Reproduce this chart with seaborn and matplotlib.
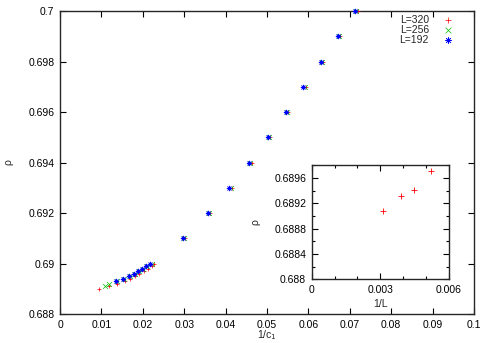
import numpy as np
import matplotlib
matplotlib.use("Agg")
import matplotlib.pyplot as plt
import seaborn as sns
import pandas as pd
from matplotlib.ticker import FuncFormatter, MultipleLocator

# rho levels and the matching 1/c1 for each system size
rho_320 = [0.6890, 0.6891, 0.6892, 0.6893, 0.6894, 0.6895, 0.6896, 0.6897, 0.6898, 0.6899, 0.6900,
           0.691, 0.692, 0.693, 0.694, 0.695, 0.696, 0.697, 0.698, 0.699, 0.700]
inv_c1_320 = [0.0093, 0.0119, 0.0138, 0.0156, 0.0169, 0.0181, 0.0192, 0.0203, 0.0213, 0.0222, 0.0227,
              0.0302, 0.0363, 0.0415, 0.0463, 0.0508, 0.0551, 0.0594, 0.0636, 0.0677, 0.0719]
rho_256 = [0.6891, 0.6892, 0.6893, 0.6894, 0.6895, 0.6896, 0.6897, 0.6898, 0.6899, 0.6900,
           0.691, 0.692, 0.693, 0.694, 0.695, 0.696, 0.697, 0.698, 0.699, 0.700]
inv_c1_256 = [0.0109, 0.0119, 0.0137, 0.0155, 0.0168, 0.0180, 0.0190, 0.0201, 0.0211, 0.0222,
              0.0299, 0.0360, 0.0412, 0.0460, 0.0505, 0.0548, 0.0591, 0.0633, 0.0674, 0.0716]
rho_192 = [0.6893, 0.6894, 0.6895, 0.6896, 0.6897, 0.6898, 0.6899, 0.6900,
           0.691, 0.692, 0.693, 0.694, 0.695, 0.696, 0.697, 0.698, 0.699, 0.700]
inv_c1_192 = [0.0135, 0.0153, 0.0166, 0.0178, 0.0188, 0.0199, 0.0208, 0.0218,
              0.0296, 0.0357, 0.0409, 0.0457, 0.0502, 0.0545, 0.0588, 0.0630, 0.0671, 0.0713]

# inset: rho against 1/L
inv_L = [0.003125, 0.0039, 0.00446, 0.0052]
rho_inset = [0.68908, 0.68932, 0.68941, 0.68971]

series = [('L=320', inv_c1_320, rho_320, '#ff0000', '+'),
          ('L=256', inv_c1_256, rho_256, '#00c000', 'x'),
          ('L=192', inv_c1_192, rho_192, '#0000ff', (8, 2, 0))]

sns.set_style("ticks")
plt.rcParams['font.family'] = ['Liberation Sans', 'DejaVu Sans']
fs = 7.5

fig = plt.figure(figsize=(4.91, 3.43), dpi=100)
ax = fig.add_axes([0.1222, 0.0845, 0.8432, 0.8834])

for label, xs, ys, color, marker in series:
    sns.scatterplot(x=xs, y=ys, ax=ax, color=color, marker=marker, s=12,
                    linewidth=0.5, label=label, clip_on=False, zorder=3)

fmt = FuncFormatter(lambda v, p: f'{round(v, 6):g}')
ax.set_xlim(0, 0.1)
ax.set_ylim(0.688, 0.7)
ax.xaxis.set_major_locator(MultipleLocator(0.01))
ax.yaxis.set_major_locator(MultipleLocator(0.002))
ax.xaxis.set_major_formatter(fmt)
ax.yaxis.set_major_formatter(fmt)
ax.tick_params(direction='in', top=True, right=True, length=4, width=0.8,
               labelsize=fs, colors='black', pad=4)
for s in ax.spines.values():
    s.set_linewidth(1.0)
    s.set_visible(True)
ax.set_xlabel('1/c$_1$', fontsize=fs, labelpad=-1)
ax.set_ylabel('ρ', fontsize=fs, labelpad=11)

leg = ax.legend(loc='upper right', bbox_to_anchor=(0.959, 1.0), frameon=False,
                markerfirst=False, fontsize=fs, handletextpad=1.3, labelspacing=0.0,
                borderaxespad=0.0, handlelength=1.0, markerscale=1.2)

# inset
axi = fig.add_axes([0.6348, 0.1857, 0.2797, 0.3323])
sns.scatterplot(x=inv_L, y=rho_inset, ax=axi, color='#ff0000', marker='+', s=14,
                linewidth=0.6, zorder=3)
axi.set_xlim(0, 0.006)
axi.set_ylim(0.688, 0.6898)
axi.xaxis.set_major_locator(MultipleLocator(0.003))
axi.xaxis.set_minor_locator(MultipleLocator(0.001))
axi.yaxis.set_major_locator(MultipleLocator(0.0004))
axi.yaxis.set_minor_locator(MultipleLocator(0.0002))
axi.xaxis.set_major_formatter(fmt)
axi.yaxis.set_major_formatter(fmt)
axi.tick_params(which='both', direction='in', top=True, right=True, labelsize=fs,
                colors='black', width=0.8, pad=4)
axi.tick_params(which='major', length=4)
axi.tick_params(which='minor', length=2)
for s in axi.spines.values():
    s.set_linewidth(1.0)
    s.set_visible(True)
axi.set_xlabel('1/L', fontsize=fs, labelpad=3)
axi.set_ylabel('ρ', fontsize=fs, labelpad=10)

plt.savefig('out.png', dpi=100)
